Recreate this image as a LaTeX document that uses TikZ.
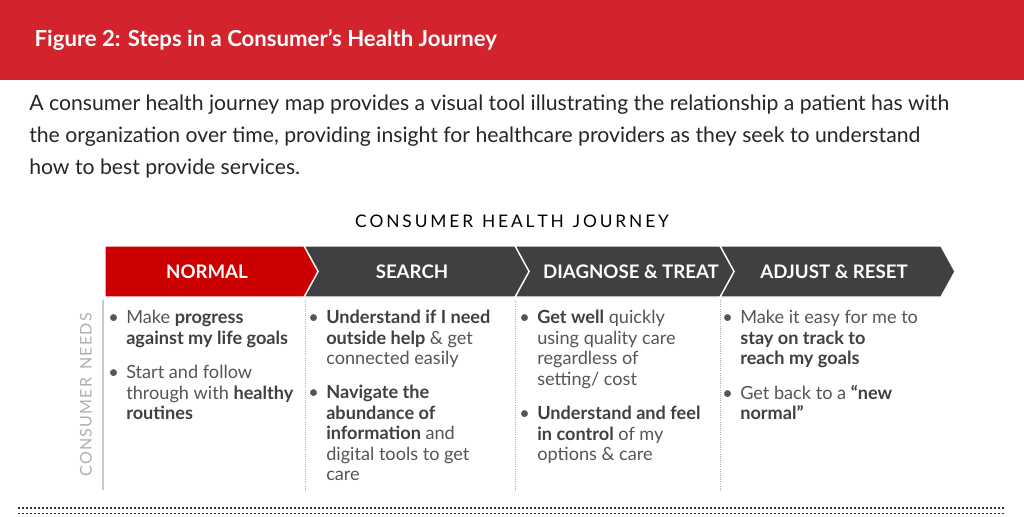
\documentclass[tikz,border=0pt]{standalone}
\usepackage{fontspec}
\setmainfont{Lato}
\definecolor{hdr}{RGB}{211,35,45}
\definecolor{chred}{RGB}{204,0,0}
\definecolor{chgr}{RGB}{64,64,64}
\definecolor{txt}{RGB}{85,85,85}
\definecolor{lbl}{RGB}{175,175,175}
\newcommand{\bl}[1]{{\color{chgr}\bfseries #1}}
\tikzset{
  px/.style={x=0.75pt,y=-0.75pt},
  chev/.style={fill=#1,draw=white,line width=1pt},
  chlbl/.style={text=white,font=\bfseries\fontsize{14pt}{16pt}\selectfont,anchor=center},
  item/.style={anchor=north west,inner sep=0pt,align=left,text=txt,
    font=\fontsize{13.6pt}{15.4pt}\selectfont},
  sep/.style={draw=lbl,line width=0.6pt,densely dotted},
}
\newcommand{\bu}{\llap{•\hspace{5.5pt}}}
\newcommand{\lsp}{\kern0.9pt}
\begin{document}
\begin{tikzpicture}[px]
\useasboundingbox (0,0) rectangle (1024,517);
\fill[white] (0,0) rectangle (1024,517);
\fill[hdr] (0,0) rectangle (1024,80);
\node[anchor=west,text=white,font=\bfseries\fontsize{16.6pt}{18pt}\selectfont] (title) at (30,40) {Figure 2: Steps in a Consumer’s Health Journey};
\node[anchor=north west,inner sep=0pt,align=left,text=black!85,
  font=\fontsize{15.9pt}{24pt}\selectfont] (para) at (29,95)
  {A consumer health journey map provides a visual tool illustrating the relationship a patient has with\\ the organization over time, providing insight for healthcare providers as they seek to understand\\ how to best provide services.};
\node[font=\fontsize{13pt}{15pt}\selectfont,text=black] (cap) at (512,221) {C\,O\,N\,S\,U\,M\,E\,R\ \ H\,E\,A\,L\,T\,H\ \ J\,O\,U\,R\,N\,E\,Y};
% chevrons
\path[chev=chgr] (720,246) -- (941,246) -- (955,271.5) -- (941,297) -- (720,297) -- (734,271.5) -- cycle;
\path[chev=chgr] (515,246) -- (720,246) -- (734,271.5) -- (720,297) -- (515,297) -- (529,271.5) -- cycle;
\path[chev=chgr] (304,246) -- (515,246) -- (529,271.5) -- (515,297) -- (304,297) -- (318,271.5) -- cycle;
\path[chev=chred] (105,246) -- (304,246) -- (318,271.5) -- (304,297) -- (105,297) -- cycle;
\node[chlbl] (n1) at (207,271.5) {NORMAL};
\node[chlbl] (n2) at (412,271.5) {SEARCH};
\node[chlbl] (n3) at (631,271.5) {DIAGNOSE \& TREAT};
\node[chlbl] (n4) at (834,271.5) {ADJUST \& RESET};
% separators
\draw[lbl!70,line width=0.8pt] (103,300) -- (103,490);
\draw[sep] (305,300) -- (305,490);
\draw[sep] (515,300) -- (515,490);
\draw[sep] (720,300) -- (720,490);
\node[rotate=90,text=lbl,font=\fontsize{12pt}{14pt}\selectfont] (cn) at (86,395) {C\lsp O\lsp N\lsp S\lsp U\lsp M\lsp E\lsp R\ \ N\lsp E\lsp E\lsp D\lsp S};
% items
\node[item] (a1) at (126,310) {\bu Make \bl{progress}\\ \bl{against my life goals}};
\node[item] (a2) at (126,365) {\bu Start and follow\\ through with \bl{healthy}\\ \bl{routines}};
\node[item] (b1) at (326,310) {\bu\bl{Understand if I need}\\ \bl{outside help} \& get\\ connected easily};
\node[item] (b2) at (326,385) {\bu\bl{Navigate the}\\ \bl{abundance of}\\ \bl{information} and\\ digital tools to get\\ care};
\node[item] (c1) at (537,310) {\bu\bl{Get well} quickly\\ using quality care\\ regardless of\\ setting/ cost};
\node[item] (c2) at (537,406) {\bu\bl{Understand and feel}\\ \bl{in control} of my\\ options \& care};
\node[item] (d1) at (740,310) {\bu Make it easy for me to\\ \bl{stay on track to}\\ \bl{reach my goals}};
\node[item] (d2) at (740,385) {\bu Get back to a \bl{“new}\\ \bl{normal”}};
% bottom dotted lines
\draw[black!80,line width=1.4pt,dash pattern=on 1.4pt off 1.6pt] (18,508) -- (1005,508);
\draw[black!80,line width=1.4pt,dash pattern=on 1.4pt off 1.6pt] (18,513.5) -- (1005,513.5);
\end{tikzpicture}
\end{document}
